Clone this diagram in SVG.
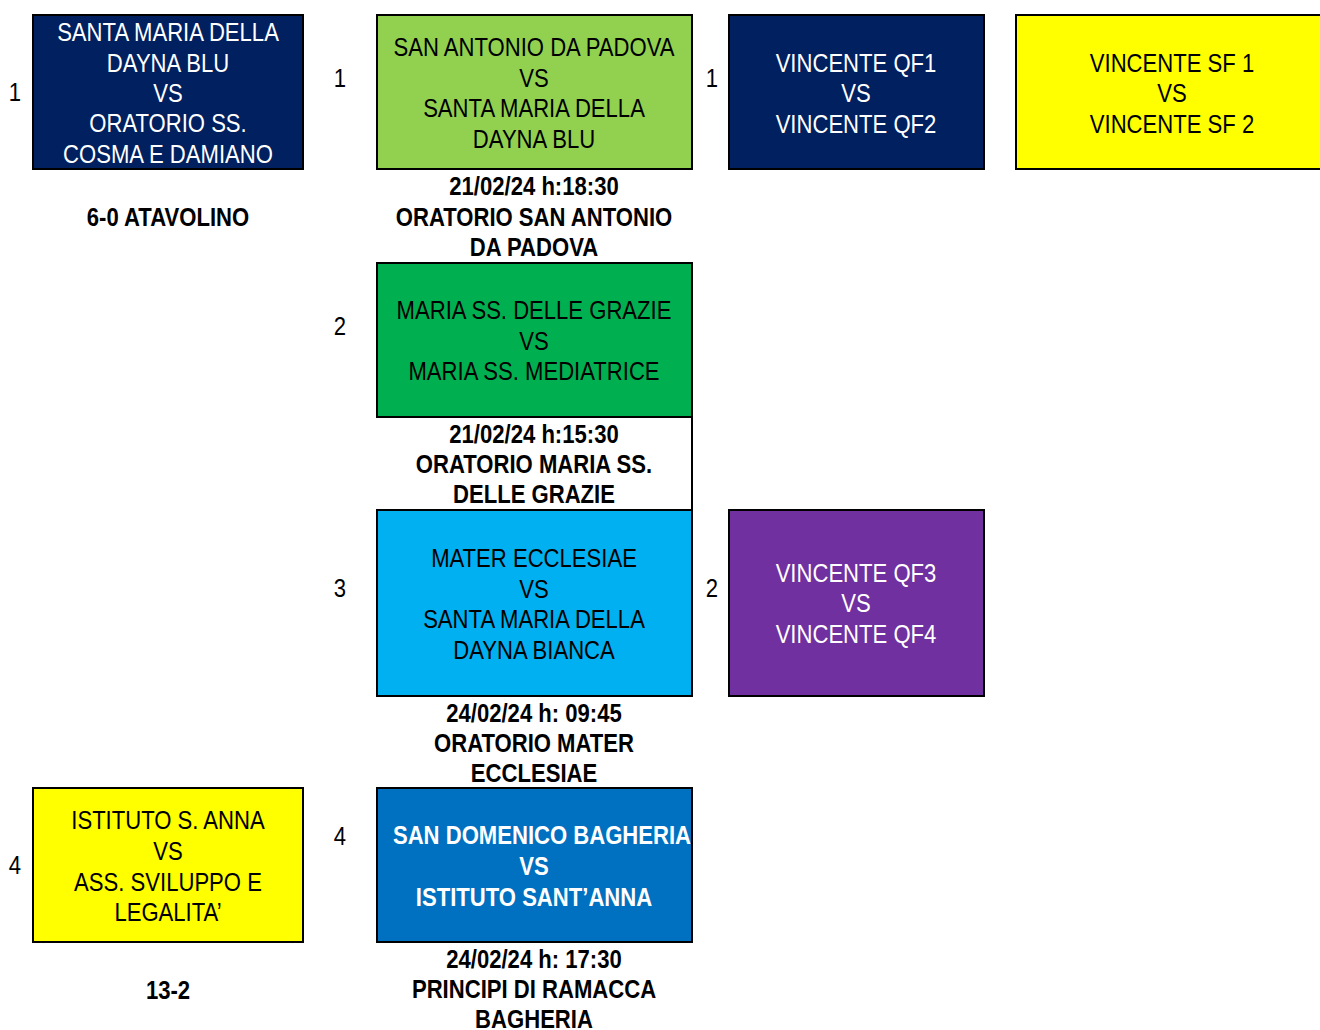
<svg xmlns="http://www.w3.org/2000/svg" width="1320" height="1030" viewBox="0 0 1320 1030">
<style>
text{font-family:"Liberation Sans",Arial,sans-serif;font-size:26px;text-anchor:middle}
.b{font-weight:bold}
.w{fill:#fff}
.k{fill:#000}
.box{stroke:#000;stroke-width:2}
</style>
<rect width="1320" height="1030" fill="#fff"/>
<g id="node-r16-1">
<rect class="box" x="33" y="15" width="270" height="154" fill="#002060"/>
<text class="w" transform="translate(168,41) scale(0.85,1)">SANTA MARIA DELLA</text>
<text class="w" transform="translate(168,71.5) scale(0.85,1)">DAYNA BLU</text>
<text class="w" transform="translate(168,101.8) scale(0.85,1)">VS</text>
<text class="w" transform="translate(168,132.2) scale(0.85,1)">ORATORIO SS.</text>
<text class="w" transform="translate(168,162.5) scale(0.85,1)">COSMA E DAMIANO</text>
<text class="k" transform="translate(15,101) scale(0.85,1)">1</text>
<text class="k b" transform="translate(168,226) scale(0.85,1)">6-0 ATAVOLINO</text>
</g>
<g id="node-r16-4">
<rect class="box" x="33" y="788" width="270" height="154" fill="#FFFF00"/>
<text class="k" transform="translate(168,829) scale(0.85,1)">ISTITUTO S. ANNA</text>
<text class="k" transform="translate(168,860) scale(0.85,1)">VS</text>
<text class="k" transform="translate(168,890.5) scale(0.85,1)">ASS. SVILUPPO E</text>
<text class="k" transform="translate(168,920.5) scale(0.85,1)">LEGALITA’</text>
<text class="k" transform="translate(15,874) scale(0.85,1)">4</text>
<text class="k b" transform="translate(168,999) scale(0.85,1)">13-2</text>
</g>
<g id="node-qf1">
<rect class="box" x="377" y="15" width="315" height="154" fill="#92D050"/>
<text class="k" transform="translate(534,56) scale(0.85,1)">SAN ANTONIO DA PADOVA</text>
<text class="k" transform="translate(534,86.5) scale(0.85,1)">VS</text>
<text class="k" transform="translate(534,117) scale(0.85,1)">SANTA MARIA DELLA</text>
<text class="k" transform="translate(534,147.5) scale(0.85,1)">DAYNA BLU</text>
<text class="k" transform="translate(340,87) scale(0.85,1)">1</text>
<text class="k b" transform="translate(534,195) scale(0.85,1)">21/02/24 h:18:30</text>
<text class="k b" transform="translate(534,225.5) scale(0.85,1)">ORATORIO SAN ANTONIO</text>
<text class="k b" transform="translate(534,255.5) scale(0.85,1)">DA PADOVA</text>
</g>
<g id="node-qf2">
<rect class="box" x="377" y="263" width="315" height="154" fill="#00B050"/>
<text class="k" transform="translate(534,319) scale(0.85,1)">MARIA SS. DELLE GRAZIE</text>
<text class="k" transform="translate(534,349.5) scale(0.85,1)">VS</text>
<text class="k" transform="translate(534,380) scale(0.85,1)">MARIA SS. MEDIATRICE</text>
<text class="k" transform="translate(340,335) scale(0.85,1)">2</text>
<text class="k b" transform="translate(534,443.3) scale(0.85,1)">21/02/24 h:15:30</text>
<text class="k b" transform="translate(534,473) scale(0.85,1)">ORATORIO MARIA SS.</text>
<text class="k b" transform="translate(534,503.3) scale(0.85,1)">DELLE GRAZIE</text>
</g>
<g id="node-qf3">
<rect class="box" x="377" y="510" width="315" height="186" fill="#00B0F0"/>
<text class="k" transform="translate(534,567) scale(0.85,1)">MATER ECCLESIAE</text>
<text class="k" transform="translate(534,597.5) scale(0.85,1)">VS</text>
<text class="k" transform="translate(534,628) scale(0.85,1)">SANTA MARIA DELLA</text>
<text class="k" transform="translate(534,658.5) scale(0.85,1)">DAYNA BIANCA</text>
<text class="k" transform="translate(340,597) scale(0.85,1)">3</text>
<text class="k b" transform="translate(534,721.7) scale(0.85,1)">24/02/24 h: 09:45</text>
<text class="k b" transform="translate(534,752.3) scale(0.85,1)">ORATORIO MATER</text>
<text class="k b" transform="translate(534,781.7) scale(0.85,1)">ECCLESIAE</text>
</g>
<g id="node-qf4">
<rect class="box" x="377" y="788" width="315" height="154" fill="#0070C0"/>
<text class="w b" transform="translate(542,844.3) scale(0.85,1)">SAN DOMENICO BAGHERIA</text>
<text class="w b" transform="translate(534,874.5) scale(0.85,1)">VS</text>
<text class="w b" transform="translate(534,905.5) scale(0.85,1)">ISTITUTO SANT’ANNA</text>
<text class="k" transform="translate(340,845) scale(0.85,1)">4</text>
<text class="k b" transform="translate(534,968.3) scale(0.85,1)">24/02/24 h: 17:30</text>
<text class="k b" transform="translate(534,998.3) scale(0.85,1)">PRINCIPI DI RAMACCA</text>
<text class="k b" transform="translate(534,1028) scale(0.85,1)">BAGHERIA</text>
</g>
<g id="node-sf1">
<rect class="box" x="729" y="15" width="255" height="154" fill="#002060"/>
<text class="w" transform="translate(856,71.7) scale(0.85,1)">VINCENTE QF1</text>
<text class="w" transform="translate(856,102) scale(0.85,1)">VS</text>
<text class="w" transform="translate(856,132.7) scale(0.85,1)">VINCENTE QF2</text>
<text class="k" transform="translate(712,87) scale(0.85,1)">1</text>
</g>
<g id="node-sf2">
<rect class="box" x="729" y="510" width="255" height="186" fill="#7030A0"/>
<text class="w" transform="translate(856,581.7) scale(0.85,1)">VINCENTE QF3</text>
<text class="w" transform="translate(856,612.3) scale(0.85,1)">VS</text>
<text class="w" transform="translate(856,643) scale(0.85,1)">VINCENTE QF4</text>
<text class="k" transform="translate(712,597) scale(0.85,1)">2</text>
</g>
<g id="node-final">
<rect class="box" x="1016" y="15" width="320" height="154" fill="#FFFF00"/>
<text class="k" transform="translate(1172,71.7) scale(0.85,1)">VINCENTE SF 1</text>
<text class="k" transform="translate(1172,102) scale(0.85,1)">VS</text>
<text class="k" transform="translate(1172,132.7) scale(0.85,1)">VINCENTE SF 2</text>
</g>
<g id="connectors">
<line x1="692" y1="417" x2="692" y2="510" stroke="#000" stroke-width="2"/>
</g>
</svg>
